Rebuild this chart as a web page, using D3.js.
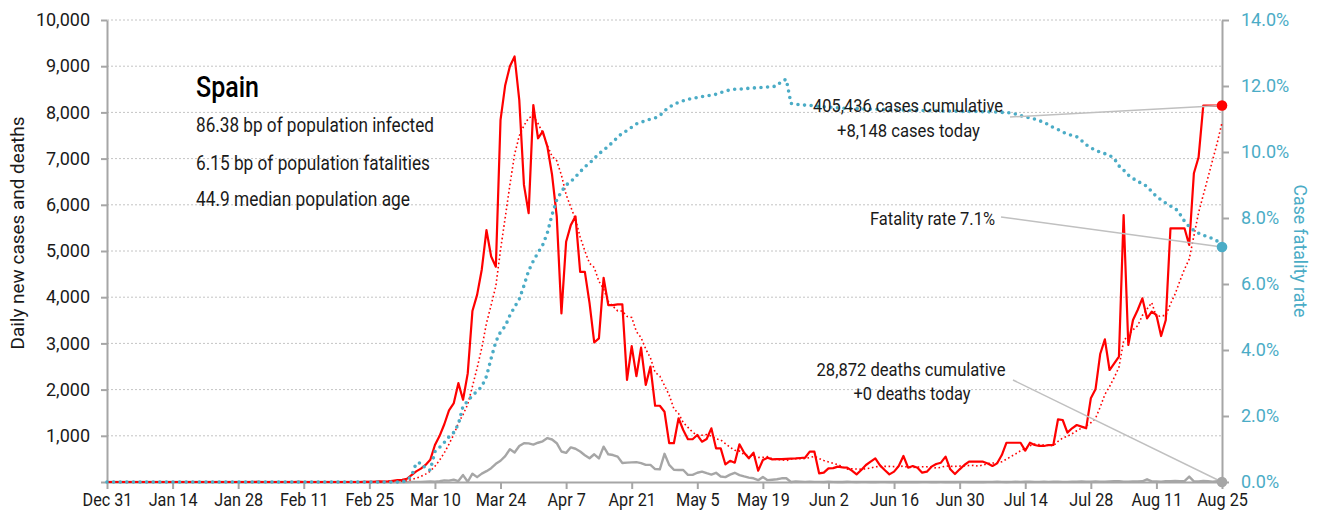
<!DOCTYPE html>
<html><head><meta charset="utf-8">
<script src="https://cdn.jsdelivr.net/npm/d3@7"></script>
<style>
body{margin:0;background:#fff;}
svg text{font-family:Roboto,"Noto Sans",sans-serif;}
</style></head><body>
<svg id="chart" width="1322" height="522"></svg>
<script>
// Daily new cases, Dec 31 2019 .. Aug 25 2020 (one value per day)
const cases = [
0,0,0,0,0,0,0,0,0,0,
0,0,0,0,0,0,0,0,0,0,
0,0,0,0,0,0,0,0,0,0,
0,0,1,0,0,0,0,0,0,0,
0,1,0,0,0,0,0,0,0,0,
0,0,0,0,0,2,4,5,13,7,
13,27,40,45,70,150,230,290,370,480,
800,1000,1250,1550,1700,2140,1780,2350,3700,4050,
4600,5450,4880,4660,7840,8590,9000,9210,8270,6430,
5820,8160,7440,7590,7260,6650,5750,3650,5200,5560,
5750,4550,4550,3870,3020,3110,4420,3830,3830,3845,
3845,2210,2940,2290,2910,2100,2500,1650,1650,1520,
840,840,1380,1125,925,925,1017,873,930,1162,
729,729,380,458,418,816,634,513,634,245,
476,526,490,495,495,500,505,510,520,526,
656,656,188,202,296,300,332,318,310,245,
166,260,368,440,510,360,260,166,224,346,
563,310,346,310,202,224,332,390,418,548,
274,173,274,368,440,440,440,440,400,346,
404,584,850,850,850,850,678,851,801,780,
780,800,801,1357,1342,1068,1162,1234,1198,1162,
1811,2006,2770,3088,2424,2568,2712,5779,2965,3506,
3723,3976,3543,3686,3615,3160,3506,5491,5491,5491,
5491,5130,6682,7028,8148,8148,8148,8148,8148
];
// Daily deaths
const deaths = [
0,0,0,0,0,0,0,0,0,0,
0,0,0,0,0,0,0,0,0,0,
0,0,0,0,0,0,0,0,0,0,
0,0,0,0,0,0,0,0,0,0,
0,0,0,0,0,0,0,0,0,0,
0,0,0,0,0,0,0,0,0,0,
0,0,0,1,0,2,3,2,5,10,
8,17,36,30,50,20,150,5,180,105,
182,235,300,395,460,560,710,640,780,840,
835,810,850,880,950,920,840,660,630,750,
720,660,580,515,600,510,765,600,584,550,
410,420,425,430,410,370,370,280,275,610,
370,265,260,260,155,155,200,225,190,160,
200,120,105,160,200,150,120,95,80,40,
110,40,50,60,80,80,0,10,5,2,
5,3,2,1,5,2,1,0,4,2,
0,2,3,1,0,3,2,1,1,0,
2,1,0,1,3,2,0,1,2,1,
0,1,3,2,1,0,2,1,3,2,
4,2,1,3,5,2,4,6,3,2,
5,3,4,6,3,2,5,8,10,4,
6,12,8,5,10,15,20,8,6,12,
10,15,58,12,10,8,15,20,25,18,
20,116,15,10,25,18,5,15,0
];
// Case fatality rate (%), cumulative
const cfr = [
0,0,0,0,0,0,0,0,0,0,
0,0,0,0,0,0,0,0,0,0,
0,0,0,0,0,0,0,0,0,0,
0,0,0,0,0,0,0,0,0,0,
0,0,0,0,0,0,0,0,0,0,
0,0,0,0,0,0,0,0,0,0,
0,0,0,0,0.05,0.18,0.57,0.58,0.41,0.36,
0.92,1.05,1.2,1.37,1.5,1.75,2.3,2.45,2.62,2.75,
2.89,3.2,3.75,4.25,4.55,4.72,5.05,5.3,5.54,5.95,
6.4,6.7,6.95,7.18,7.55,8.1,8.55,8.8,9.0,9.1,
9.25,9.4,9.55,9.66,9.8,9.95,10.05,10.18,10.3,10.45,
10.57,10.65,10.75,10.85,10.9,10.95,11.0,11.03,11.1,11.25,
11.35,11.45,11.5,11.55,11.6,11.62,11.65,11.68,11.7,11.72,
11.75,11.8,11.85,11.88,11.9,11.9,11.92,11.93,11.94,11.95,
11.96,11.97,11.98,12.0,12.15,12.2,11.47,11.45,11.43,11.42,
11.41,11.4,11.38,11.37,11.36,11.35,11.34,11.33,11.32,11.32,
11.32,11.31,11.3,11.3,11.3,11.29,11.29,11.28,11.28,11.27,
11.27,11.27,11.26,11.26,11.26,11.25,11.25,11.25,11.24,11.24,
11.24,11.24,11.23,11.23,11.23,11.23,11.22,11.22,11.22,11.21,
11.21,11.2,11.2,11.18,11.15,11.1,11.07,11.03,11.0,10.95,
10.9,10.82,10.74,10.68,10.6,10.55,10.5,10.46,10.35,10.22,
10.13,10.05,10.0,9.95,9.9,9.8,9.58,9.45,9.3,9.2,
9.1,9.05,8.95,8.8,8.65,8.55,8.45,8.36,8.3,8.12,
7.9,7.74,7.62,7.54,7.48,7.42,7.38,7.3,7.12
];
const yTicks = [0,1000,2000,3000,4000,5000,6000,7000,8000,9000,10000];
const rTicks = [0,2,4,6,8,10,12,14];
const xTickLabels = ["Dec 31","Jan 14","Jan 28","Feb 11","Feb 25","Mar 10","Mar 24","Apr 7","Apr 21","May 5","May 19","Jun 2","Jun 16","Jun 30","Jul 14","Jul 28","Aug 11","Aug 25"];
const country = "Spain";
const infoLines = ["86.38 bp of population infected","6.15 bp of population fatalities","44.9 median population age"];
const casesNote = ["405,436 cases cumulative","+8,148 cases today"];
const deathsNote = ["28,872 deaths cumulative","+0 deaths today"];
const cfrNote = "Fatality rate 7.1%";

const TEAL = "#4bacc6", RED = "#ff0000", GREY = "#a6a6a6", INK = "#1a1a1a";
const START = Date.UTC(2019, 11, 31);
const dates = cases.map((_, i) => new Date(START + i * 864e5));
const ma7 = cases.map((_, i) => d3.mean(cases.slice(Math.max(0, i - 6), i + 1)));

const svg = d3.select("#chart");
const x = d3.scaleUtc().domain([dates[0], dates[dates.length - 1]]).range([107, 1222]);
const yL = d3.scaleLinear().domain([0, 10000]).range([482, 20]);
const yR = d3.scaleLinear().domain([0, 14]).range([482, 20]);

// grid
svg.append("g").selectAll("line").data(yTicks.filter(d => d > 0)).join("line")
  .attr("x1", 107).attr("x2", 1222).attr("y1", d => yL(d)).attr("y2", d => yL(d))
  .attr("stroke", "#c4c4c4").attr("stroke-width", 1).attr("stroke-dasharray", "2,2");

function styleAxis(g) {
  g.selectAll(".domain").attr("stroke", GREY).attr("stroke-width", 2);
  g.selectAll(".tick line").attr("stroke", GREY).attr("stroke-width", 2);
  g.selectAll(".tick text").attr("font-size", 18).attr("font-family", "Roboto");
}
const gl = svg.append("g").attr("transform", "translate(107,0)")
  .call(d3.axisLeft(yL).tickValues(yTicks).tickFormat(d => d === 0 ? "" : d3.format(",")(d)).tickSize(6).tickSizeOuter(0).tickPadding(11));
styleAxis(gl); gl.selectAll(".tick text").attr("fill", INK);
const gr = svg.append("g").attr("transform", "translate(1222,0)")
  .call(d3.axisRight(yR).tickValues(rTicks).tickFormat(d => d.toFixed(1) + "%").tickSize(7).tickSizeOuter(0).tickPadding(12));
styleAxis(gr); gr.selectAll(".tick text").attr("fill", TEAL);
const tickDates = xTickLabels.map((_, i) => dates[i * 14]);
const gb = svg.append("g").attr("transform", "translate(0,482)")
  .call(d3.axisBottom(x).tickValues(tickDates).tickFormat((d, i) => xTickLabels[i]).tickSize(7).tickSizeOuter(0).tickPadding(4));
styleAxis(gb); gb.selectAll(".tick text").attr("fill", INK).attr("transform", "scale(0.9,1)");

// series
const line = ys => d3.line().x((d, i) => x(dates[i])).y(d => ys(d)).curve(d3.curveLinear);
svg.append("path").datum(deaths).attr("d", line(yL)).attr("fill", "none")
  .attr("stroke", GREY).attr("stroke-width", 2.4).attr("stroke-linejoin", "round");
svg.append("path").datum(cases).attr("d", line(yL)).attr("fill", "none")
  .attr("stroke", RED).attr("stroke-width", 2.2).attr("stroke-linejoin", "round");
svg.append("path").datum(ma7).attr("d", line(yL)).attr("fill", "none")
  .attr("stroke", RED).attr("stroke-width", 1.6).attr("stroke-dasharray", "1.6,2.6");
svg.append("path").datum(cfr).attr("d", line(yR)).attr("fill", "none")
  .attr("stroke", TEAL).attr("stroke-width", 3.6).attr("stroke-linecap", "round").attr("stroke-dasharray", "0,6.6");

// text helpers
function txt(s, x0, y0, size, len, anchor, fill, rot, weight) {
  const t = svg.append("text").text(s).attr("x", x0).attr("y", y0)
    .attr("font-size", size).attr("fill", fill || INK).attr("text-anchor", anchor || "start");
  if (len) t.attr("textLength", len).attr("lengthAdjust", "spacingAndGlyphs");
  if (rot) t.attr("transform", `rotate(${rot},${x0},${y0})`);
  if (weight) t.attr("font-weight", weight);
  return t;
}
txt("Daily new cases and deaths", 24, 233, 18, 233, "middle", INK, -90);
txt("Case fatality rate", 1294, 251, 18, 133, "middle", TEAL, 90);

txt(country, 196, 97, 30, 63, "start", "#000", 0, 500);
const infoLens = [238, 234, 214], infoY = [132, 170, 206];
infoLines.forEach((s, i) => txt(s, 196, infoY[i], 19.5, infoLens[i]));

// leader lines + end markers
const last = dates.length - 1, xe = x(dates[last]);
const lead = (x1, y1, x2, y2) => svg.append("line").attr("x1", x1).attr("y1", y1).attr("x2", x2).attr("y2", y2)
  .attr("stroke", "#c0c0c0").attr("stroke-width", 1.5);
lead(1010, 117, xe, yL(cases[last]));
lead(1001, 217, xe, yR(cfr[last]));
lead(1013, 380, xe, yL(deaths[last]));
svg.append("circle").attr("cx", xe).attr("cy", yL(cases[last])).attr("r", 5.3).attr("fill", RED);
svg.append("circle").attr("cx", xe).attr("cy", yR(cfr[last])).attr("r", 5.3).attr("fill", TEAL);
svg.append("circle").attr("cx", xe).attr("cy", yL(deaths[last])).attr("r", 5.3).attr("fill", GREY);

txt(casesNote[0], 908, 112, 19, 190, "middle");
txt(casesNote[1], 908.5, 137, 19, 143, "middle");
txt(cfrNote, 995, 225, 19, 125, "end");
txt(deathsNote[0], 911, 376, 19, 189, "middle");
txt(deathsNote[1], 912, 400, 19, 117, "middle");
</script>
</body></html>
